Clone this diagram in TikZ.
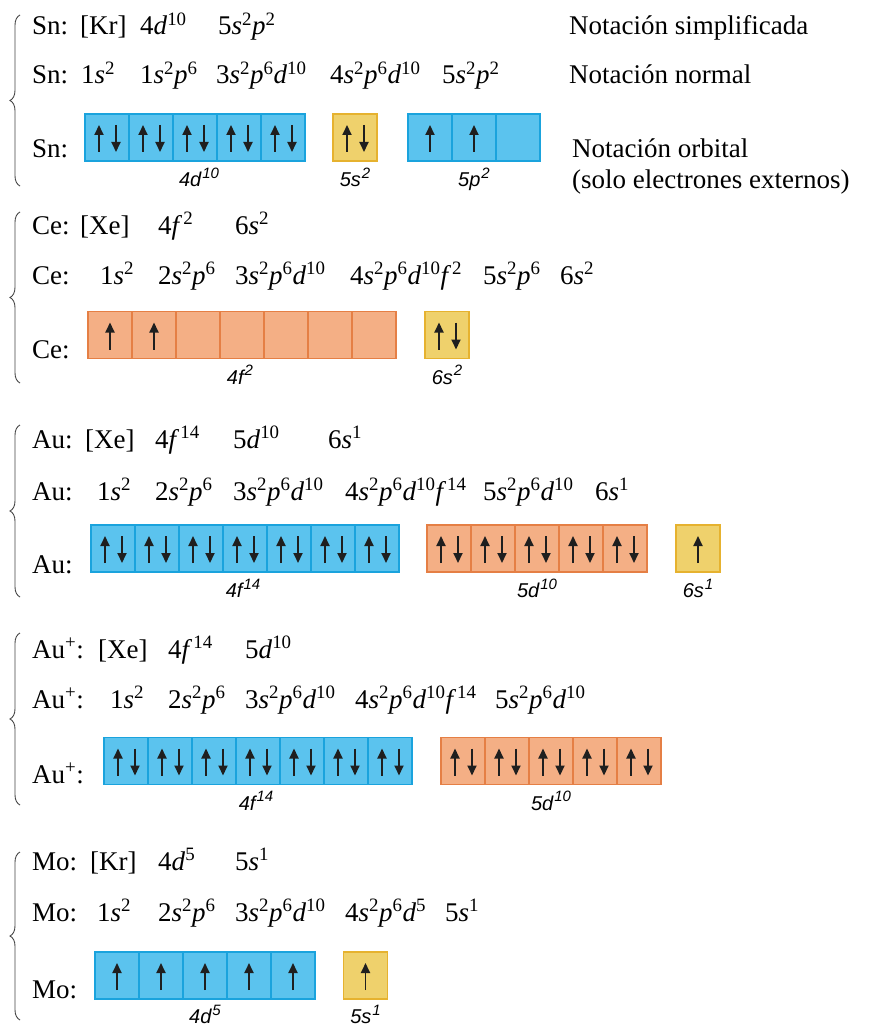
\documentclass[tikz,border=0pt]{standalone}
\usepackage{fontspec}
\setmainfont{Liberation Serif}
\newfontfamily\labfont{Liberation Sans}
\usetikzlibrary{arrows.meta,decorations.pathreplacing}
\definecolor{orbblue}{HTML}{5BC3EE}
\definecolor{orbblueline}{HTML}{1AA3DD}
\definecolor{orbpeach}{HTML}{F4AF85}
\definecolor{orbpeachline}{HTML}{E57F45}
\definecolor{orbyellow}{HTML}{EFD16C}
\definecolor{orbyellowline}{HTML}{E6B22F}
\definecolor{bracegray}{HTML}{444444}

\newcommand{\su}[2]{\textit{#1}\textsuperscript{#2}}
\newcommand{\labsup}[1]{\kern1pt\raisebox{0.42em}{\fontsize{15}{15}\selectfont #1}}
\newcommand{\pairspin}[1]{%
  \draw[spin] ([xshift=-8pt,yshift=-14.5pt]#1.center) -- ++(0,27pt);
  \draw[spin] ([xshift=9pt,yshift=12.5pt]#1.center) -- ++(0,-27pt);}
\newcommand{\upspin}[1]{%
  \draw[spin] ([yshift=-14.5pt]#1.center) -- ++(0,27pt);}

\tikzset{
  orb/.style={draw, line width=1.2pt, minimum width=44pt, minimum height=47pt, inner sep=0pt},
  blueorb/.style={orb, fill=orbblue, draw=orbblueline},
  peachorb/.style={orb, fill=orbpeach, draw=orbpeachline},
  yelloworb/.style={orb, fill=orbyellow, draw=orbyellowline},
  spin/.style={-{Triangle[length=10pt,width=9pt]}, line width=1.9pt, black!88},
  row/.style={anchor=base west, inner sep=0pt, font=\fontsize{27}{31}\selectfont},
  sub/.style={anchor=base, inner sep=0pt, font=\labfont\itshape\fontsize{20}{23}\selectfont},
  curly/.style={decorate, decoration={brace, amplitude=10pt}, bracegray, line width=0.9pt}
}

\begin{document}
\begin{tikzpicture}[x=1pt, y=-1pt]
    \useasboundingbox (0,0) rectangle (871,1027);

    % Sn
    \draw[curly] (20,186) -- (20,15);
    \node[row] (sn1) at (32,35) {Sn:};
    \node[row] (sn1a) at (80,35) {[Kr]};
    \node[row] (sn1b) at (140,35) {4\su{d}{10}};
    \node[row] (sn1c) at (218,35) {5\su{s}{2}\su{p}{2}};
    \node[row] (simpl) at (569,35) {Notación simplificada};
    \node[row] (sn2) at (32,84) {Sn:};
    \node[row] (sn2a) at (81,84) {1\su{s}{2}};
    \node[row] (sn2b) at (140,84) {1\su{s}{2}\su{p}{6}};
    \node[row] (sn2c) at (216,84) {3\su{s}{2}\su{p}{6}\su{d}{10}};
    \node[row] (sn2d) at (330,84) {4\su{s}{2}\su{p}{6}\su{d}{10}};
    \node[row] (sn2e) at (442,84) {5\su{s}{2}\su{p}{2}};
    \node[row] (normal) at (569,84) {Notación normal};
    \node[row] (sn3) at (32,158) {Sn:};
    \node[row] (orbital) at (572,158) {Notación orbital};
    \node[row] (orbital2) at (572,189) {(solo electrones externos)};
    \foreach \k in {0,...,4} {
      \node[blueorb] (sn4d\k) at ({107+44*\k},137.5) {};
      \pairspin{sn4d\k}
    }
    \node[yelloworb] (sn5s) at (355,137.5) {};
    \pairspin{sn5s}
    \foreach \k in {0,1,2}
      \node[blueorb] (sn5p\k) at ({430+44*\k},137.5) {};
    \upspin{sn5p0}
    \upspin{sn5p1}
    \node[sub] (sn4dlab) at ([xshift=4pt,yshift=-25pt]sn4d2.south) {4d\labsup{10}};
    \node[sub] (sn5slab) at ([yshift=-25pt]sn5s.south) {5s\labsup{2}};
    \node[sub] (sn5plab) at ([yshift=-25pt]sn5p1.south) {5p\labsup{2}};

    % Ce
    \draw[curly] (20,383) -- (20,212);
    \node[row] (ce1) at (32,234) {Ce:};
    \node[row] (ce1a) at (80,234) {[Xe]};
    \node[row] (ce1b) at (158,234) {4\su{f}{\kern1pt2}};
    \node[row] (ce1c) at (235,234) {6\su{s}{2}};
    \node[row] (ce2) at (32,284) {Ce:};
    \node[row] (ce2a) at (100,284) {1\su{s}{2}};
    \node[row] (ce2b) at (158,284) {2\su{s}{2}\su{p}{6}};
    \node[row] (ce2c) at (235,284) {3\su{s}{2}\su{p}{6}\su{d}{10}};
    \node[row] (ce2d) at (350,284) {4\su{s}{2}\su{p}{6}\su{d}{10}\su{f}{\kern1pt2}};
    \node[row] (ce2e) at (483,284) {5\su{s}{2}\su{p}{6}};
    \node[row] (ce2f) at (560,284) {6\su{s}{2}};
    \node[row] (ce3) at (32,358) {Ce:};
    \foreach \k in {0,...,6}
      \node[peachorb] (ce4f\k) at ({110+44*\k},335) {};
    \upspin{ce4f0}
    \upspin{ce4f1}
    \node[yelloworb] (ce6s) at (447,335) {};
    \pairspin{ce6s}
    \node[sub] (ce4flab) at ([xshift=-2pt,yshift=-25pt]ce4f3.south) {4f\labsup{2}};
    \node[sub] (ce6slab) at ([yshift=-25pt]ce6s.south) {6s\labsup{2}};

    % Au
    \draw[curly] (20,597) -- (20,425);
    \node[row] (au1) at (32,448) {Au:};
    \node[row] (au1a) at (85,448) {[Xe]};
    \node[row] (au1b) at (155,448) {4\su{f}{\kern1pt14}};
    \node[row] (au1c) at (233,448) {5\su{d}{10}};
    \node[row] (au1d) at (328,448) {6\su{s}{1}};
    \node[row] (au2) at (32,500) {Au:};
    \node[row] (au2a) at (97,500) {1\su{s}{2}};
    \node[row] (au2b) at (155,500) {2\su{s}{2}\su{p}{6}};
    \node[row] (au2c) at (233,500) {3\su{s}{2}\su{p}{6}\su{d}{10}};
    \node[row] (au2d) at (345,500) {4\su{s}{2}\su{p}{6}\su{d}{10}\su{f}{\kern1pt14}};
    \node[row] (au2e) at (483,500) {5\su{s}{2}\su{p}{6}\su{d}{10}};
    \node[row] (au2f) at (595,500) {6\su{s}{1}};
    \node[row] (au3) at (32,573) {Au:};
    \foreach \k in {0,...,6} {
      \node[blueorb] (au4f\k) at ({113+44*\k},548.5) {};
      \pairspin{au4f\k}
    }
    \foreach \k in {0,...,4} {
      \node[peachorb] (au5d\k) at ({449+44*\k},548.5) {};
      \pairspin{au5d\k}
    }
    \node[yelloworb] (au6s) at (698,548.5) {};
    \upspin{au6s}
    \node[sub] (au4flab) at ([xshift=-2pt,yshift=-25pt]au4f3.south) {4f\labsup{14}};
    \node[sub] (au5dlab) at ([yshift=-25pt]au5d2.south) {5d\labsup{10}};
    \node[sub] (au6slab) at ([yshift=-25pt]au6s.south) {6s\labsup{1}};

    % Au+
    \draw[curly] (20,805) -- (20,633);
    \node[row] (aup1) at (32,658) {Au\textsuperscript{+}:};
    \node[row] (aup1a) at (98,658) {[Xe]};
    \node[row] (aup1b) at (168,658) {4\su{f}{\kern1pt14}};
    \node[row] (aup1c) at (245,658) {5\su{d}{10}};
    \node[row] (aup2) at (32,708) {Au\textsuperscript{+}:};
    \node[row] (aup2a) at (110,708) {1\su{s}{2}};
    \node[row] (aup2b) at (168,708) {2\su{s}{2}\su{p}{6}};
    \node[row] (aup2c) at (245,708) {3\su{s}{2}\su{p}{6}\su{d}{10}};
    \node[row] (aup2d) at (355,708) {4\su{s}{2}\su{p}{6}\su{d}{10}\su{f}{\kern1pt14}};
    \node[row] (aup2e) at (495,708) {5\su{s}{2}\su{p}{6}\su{d}{10}};
    \node[row] (aup3) at (32,783) {Au\textsuperscript{+}:};
    \foreach \k in {0,...,6} {
      \node[blueorb] (aup4f\k) at ({126+44*\k},761) {};
      \pairspin{aup4f\k}
    }
    \foreach \k in {0,...,4} {
      \node[peachorb] (aup5d\k) at ({463+44*\k},761) {};
      \pairspin{aup5d\k}
    }
    \node[sub] (aup4flab) at ([xshift=-2pt,yshift=-25pt]aup4f3.south) {4f\labsup{14}};
    \node[sub] (aup5dlab) at ([yshift=-25pt]aup5d2.south) {5d\labsup{10}};

    % Mo
    \draw[curly] (20,1020) -- (20,852);
    \node[row] (mo1) at (32,870) {Mo:};
    \node[row] (mo1a) at (90,870) {[Kr]};
    \node[row] (mo1b) at (158,870) {4\su{d}{5}};
    \node[row] (mo1c) at (235,870) {5\su{s}{1}};
    \node[row] (mo2) at (32,921) {Mo:};
    \node[row] (mo2a) at (97,921) {1\su{s}{2}};
    \node[row] (mo2b) at (158,921) {2\su{s}{2}\su{p}{6}};
    \node[row] (mo2c) at (235,921) {3\su{s}{2}\su{p}{6}\su{d}{10}};
    \node[row] (mo2d) at (345,921) {4\su{s}{2}\su{p}{6}\su{d}{5}};
    \node[row] (mo2e) at (445,921) {5\su{s}{1}};
    \node[row] (mo3) at (32,998) {Mo:};
    \foreach \k in {0,...,4} {
      \node[blueorb] (mo4d\k) at ({117+44*\k},975.5) {};
      \upspin{mo4d\k}
    }
    \node[yelloworb] (mo5s) at (365.5,975.5) {};
    \upspin{mo5s}
    \node[sub] (mo4dlab) at ([yshift=-24pt]mo4d2.south) {4d\labsup{5}};
    \node[sub] (mo5slab) at ([yshift=-24pt]mo5s.south) {5s\labsup{1}};
\end{tikzpicture}
\end{document}
